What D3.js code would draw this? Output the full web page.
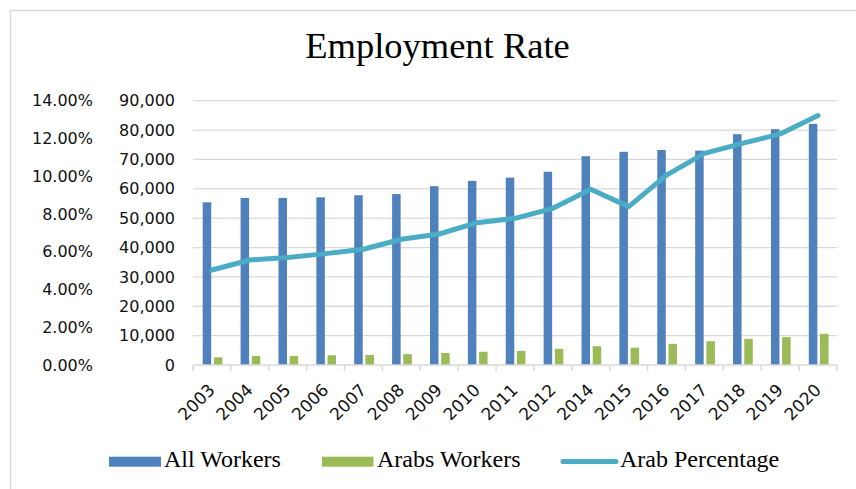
<!DOCTYPE html>
<html>
<head>
<meta charset="utf-8">
<script src="https://cdn.jsdelivr.net/npm/d3@7"></script>
<style>
  body { margin: 0; background: #fff; }
  svg { display: block; }
</style>
</head>
<body>
<svg id="chart" width="856" height="489"></svg>
<script>
// Chart data
const years = ['2003', '2004', '2005', '2006', '2007', '2008', '2009', '2010', '2011',
    '2012', '2014', '2015', '2016', '2017', '2018', '2019', '2020'];
const allWorkers = [55400, 56900, 56900, 57100, 57800, 58200, 60900, 62700, 63800,
    65800, 71100, 72600, 73200, 73000, 78600, 80300, 82100];
const arabsWorkers = [2600, 3100, 3100, 3300, 3400, 3700, 4100, 4500, 4800,
    5500, 6400, 5900, 7200, 8100, 8900, 9500, 10600];
const arabPercentage = [0.0503, 0.0556, 0.0570, 0.0590, 0.0613, 0.0666, 0.0694, 0.0754, 0.0777,
    0.0830, 0.0931, 0.0839, 0.1006, 0.1121, 0.1174, 0.1224, 0.1321];
const countTicks = [0, 10000, 20000, 30000, 40000, 50000, 60000, 70000, 80000, 90000];
const pctTicks = [0, 0.02, 0.04, 0.06, 0.08, 0.10, 0.12, 0.14];

const colors = { all: '#4F81BD', arabs: '#9BBB59', pct: '#4BACC6', grid: '#D9D9D9' };
const axisFont = '"DejaVu Sans", sans-serif';
const serifFont = '"Liberation Serif", "Times New Roman", serif';

const svg = d3.select('#chart');

// Outer chart border
svg.append('rect')
    .attr('x', 10.5).attr('y', 10.5)
    .attr('width', 870).attr('height', 500)
    .attr('fill', 'none')
    .attr('stroke', colors.grid)
    .attr('stroke-width', 1.5);

// Scales
const plot = { left: 193, right: 837, top: 100.7, bottom: 365 };

const x0 = d3.scaleBand().domain(years).range([plot.left, plot.right]).padding(0);
const x1 = d3.scaleBand().domain(['all', 'arabs']).range([9.7, 29.4]).paddingInner(0.24);
const yCount = d3.scaleLinear().domain([0, 90000]).range([plot.bottom, plot.top]);
const yPct = d3.scaleLinear().domain([0, 0.14]).range([plot.bottom, plot.top]);

// Title
svg.append('text')
    .attr('x', 437.5).attr('y', 58)
    .attr('text-anchor', 'middle')
    .attr('font-family', serifFont)
    .attr('font-size', 36.5)
    .text('Employment Rate');

// Gridlines
svg.append('g')
    .selectAll('line')
    .data(countTicks.slice(1))
    .enter().append('line')
    .attr('x1', plot.left).attr('x2', plot.right)
    .attr('y1', d => yCount(d)).attr('y2', d => yCount(d))
    .attr('stroke', colors.grid)
    .attr('stroke-width', 1.3);

// Left count axis
const countAxis = svg.append('g')
    .attr('transform', 'translate(175,0)')
    .call(d3.axisLeft(yCount).tickValues(countTicks).tickFormat(d3.format(',')).tickSize(0).tickPadding(0));
countAxis.select('.domain').remove();

// Far left percentage axis
const pctAxis = svg.append('g')
    .attr('transform', 'translate(93,0)')
    .call(d3.axisLeft(yPct).tickValues(pctTicks).tickFormat(d3.format('.2%')).tickSize(0).tickPadding(0));
pctAxis.select('.domain').remove();

svg.selectAll('.tick text')
    .attr('font-family', axisFont)
    .attr('font-size', 16)
    .attr('fill', '#111');

// Bars
const groups = svg.append('g')
    .selectAll('g')
    .data(years)
    .enter().append('g')
    .attr('transform', d => `translate(${x0(d)},0)`);

groups.append('rect')
    .attr('x', x1('all'))
    .attr('width', x1.bandwidth())
    .attr('y', (d, i) => yCount(allWorkers[i]))
    .attr('height', (d, i) => plot.bottom - yCount(allWorkers[i]))
    .attr('fill', colors.all);

groups.append('rect')
    .attr('x', x1('arabs'))
    .attr('width', x1.bandwidth())
    .attr('y', (d, i) => yCount(arabsWorkers[i]))
    .attr('height', (d, i) => plot.bottom - yCount(arabsWorkers[i]))
    .attr('fill', colors.arabs);

// Bottom axis with ticks between categories
const xAxis = svg.append('g').attr('transform', `translate(0,${plot.bottom})`);
xAxis.append('line')
    .attr('x1', plot.left).attr('x2', plot.right)
    .attr('stroke', colors.grid).attr('stroke-width', 1.5);
xAxis.selectAll('.sep')
    .data(years.concat(['end']))
    .enter().append('line')
    .attr('class', 'sep')
    .attr('x1', (d, i) => plot.left + i * x0.step())
    .attr('x2', (d, i) => plot.left + i * x0.step())
    .attr('y1', 0).attr('y2', 6)
    .attr('stroke', colors.grid).attr('stroke-width', 1.5);

svg.append('g')
    .selectAll('text')
    .data(years)
    .enter().append('text')
    .attr('transform', d => `translate(${x0(d) + x0.bandwidth() / 2 + 4},391) rotate(-45)`)
    .attr('text-anchor', 'end')
    .attr('font-family', axisFont)
    .attr('font-size', 17)
    .attr('fill', '#111')
    .text(d => d);

// Percentage line
const line = d3.line()
    .x((d, i) => x0(years[i]) + x0.bandwidth() / 2)
    .y(d => yPct(d));

svg.append('path')
    .datum(arabPercentage)
    .attr('d', line)
    .attr('fill', 'none')
    .attr('stroke', colors.pct)
    .attr('stroke-width', 5)
    .attr('stroke-linejoin', 'round')
    .attr('stroke-linecap', 'round');

// Legend
const legend = svg.append('g').attr('font-family', serifFont).attr('font-size', 24);

legend.append('rect').attr('x', 109).attr('y', 456.7).attr('width', 52).attr('height', 10).attr('fill', colors.all);
legend.append('text').attr('x', 164).attr('y', 466.7).text('All Workers');

legend.append('rect').attr('x', 322).attr('y', 456.7).attr('width', 51.5).attr('height', 10).attr('fill', colors.arabs);
legend.append('text').attr('x', 377).attr('y', 466.7).text('Arabs Workers');

legend.append('line').attr('x1', 563).attr('x2', 616).attr('y1', 461.5).attr('y2', 461.5)
    .attr('stroke', colors.pct).attr('stroke-width', 5).attr('stroke-linecap', 'round');
legend.append('text').attr('x', 620).attr('y', 466.7).text('Arab Percentage');
</script>
</body>
</html>
